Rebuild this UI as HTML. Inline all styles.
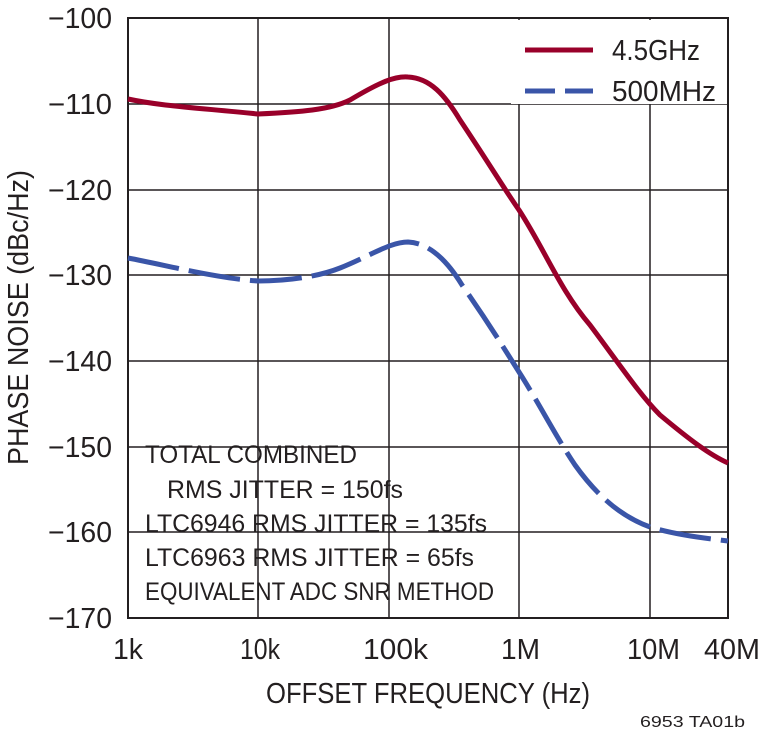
<!DOCTYPE html>
<html><head><meta charset="utf-8"><style>
html,body{margin:0;padding:0;background:#fff;}
svg{display:block;}
text{font-family:"Liberation Sans",sans-serif;fill:#231f20;}
</style></head><body>
<svg width="760" height="737" viewBox="0 0 760 737" xmlns="http://www.w3.org/2000/svg">
<g stroke="#231f20" stroke-width="1.5" fill="none">
<line x1="128" y1="104" x2="728" y2="104"/>
<line x1="128" y1="190" x2="728" y2="190"/>
<line x1="128" y1="275" x2="728" y2="275"/>
<line x1="128" y1="361" x2="728" y2="361"/>
<line x1="128" y1="447" x2="728" y2="447"/>
<line x1="128" y1="532" x2="728" y2="532"/>
<line x1="258" y1="18" x2="258" y2="618"/>
<line x1="389" y1="18" x2="389" y2="618"/>
<line x1="519" y1="18" x2="519" y2="618"/>
<line x1="650" y1="18" x2="650" y2="618"/>
</g>
<rect x="511" y="20" width="216" height="84" fill="#fff"/>
<rect x="128" y="18" width="600" height="600" fill="none" stroke="#231f20" stroke-width="2"/>
<path d="M128,99 C160,106 200,108 258,114 C300,112 330,110 350,100 C380,82 395,76 408,77 C430,78 445,95 460,120 C490,165 505,190 519,210 C545,250 560,290 590,325 C620,365 640,395 660,415 C690,440 710,455 728,463" fill="none" stroke="#99002a" stroke-width="5"/>
<path d="M128,258 C170,266 215,278 258,281 C290,281 320,276 340,268 C370,256 390,242 408,242 C430,243 448,262 462,285 C490,325 505,350 519,372 C540,405 555,435 575,465 C600,500 625,518 650,527 C680,536 705,538 728,541" fill="none" stroke="#3a55a8" stroke-width="5" stroke-dasharray="52,10"/>
<line x1="525" y1="50" x2="593" y2="50" stroke="#99002a" stroke-width="5"/>
<line x1="525" y1="91" x2="593" y2="91" stroke="#3a55a8" stroke-width="5" stroke-dasharray="30,10"/>
<g font-size="29">
<text x="612" y="60" textLength="88" lengthAdjust="spacingAndGlyphs">4.5GHz</text>
<text x="612" y="101" textLength="104" lengthAdjust="spacingAndGlyphs">500MHz</text>
</g>
<g font-size="29" text-anchor="end">
<text x="112" y="28" textLength="64" lengthAdjust="spacingAndGlyphs">−100</text>
<text x="112" y="114" textLength="64" lengthAdjust="spacingAndGlyphs">−110</text>
<text x="112" y="200" textLength="64" lengthAdjust="spacingAndGlyphs">−120</text>
<text x="112" y="285" textLength="64" lengthAdjust="spacingAndGlyphs">−130</text>
<text x="112" y="371" textLength="64" lengthAdjust="spacingAndGlyphs">−140</text>
<text x="112" y="457" textLength="64" lengthAdjust="spacingAndGlyphs">−150</text>
<text x="112" y="542" textLength="64" lengthAdjust="spacingAndGlyphs">−160</text>
<text x="112" y="628" textLength="64" lengthAdjust="spacingAndGlyphs">−170</text>
</g>
<g font-size="29">
<text x="113" y="659" textLength="30" lengthAdjust="spacingAndGlyphs">1k</text>
<text x="240" y="659" textLength="40" lengthAdjust="spacingAndGlyphs">10k</text>
<text x="363" y="659" textLength="65" lengthAdjust="spacingAndGlyphs">100k</text>
<text x="501" y="659" textLength="39" lengthAdjust="spacingAndGlyphs">1M</text>
<text x="627" y="659" textLength="53" lengthAdjust="spacingAndGlyphs">10M</text>
<text x="704" y="659" textLength="56" lengthAdjust="spacingAndGlyphs">40M</text>
<text x="266" y="703" textLength="324" lengthAdjust="spacingAndGlyphs">OFFSET FREQUENCY (Hz)</text>
<text transform="translate(28,465) rotate(-90)" textLength="295" lengthAdjust="spacingAndGlyphs">PHASE NOISE (dBc/Hz)</text>
</g>
<g font-size="25">
<text x="145" y="463" textLength="212" lengthAdjust="spacingAndGlyphs">TOTAL COMBINED</text>
<text x="167" y="498" textLength="236" lengthAdjust="spacingAndGlyphs">RMS JITTER = 150fs</text>
<text x="145" y="532" textLength="342" lengthAdjust="spacingAndGlyphs">LTC6946 RMS JITTER = 135fs</text>
<text x="145" y="566" textLength="329" lengthAdjust="spacingAndGlyphs">LTC6963 RMS JITTER = 65fs</text>
<text x="145" y="600" textLength="349" lengthAdjust="spacingAndGlyphs">EQUIVALENT ADC SNR METHOD</text>
</g>
<text x="640" y="727" font-size="16" textLength="105" lengthAdjust="spacingAndGlyphs">6953 TA01b</text>
</svg>
</body></html>
